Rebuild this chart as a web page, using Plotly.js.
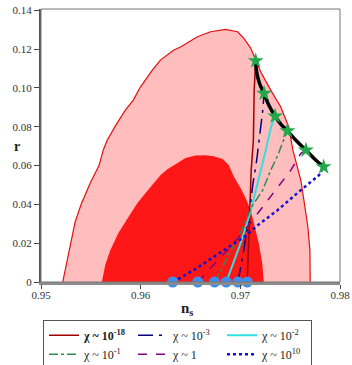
<!DOCTYPE html>
<html>
<head>
<meta charset="utf-8">
<script src="https://cdn.plot.ly/plotly-3.0.1.min.js"></script>
<style>
  html, body { margin: 0; padding: 0; background: #fff; }
  #plot-div { width: 352px; height: 365px; }
</style>
</head>
<body>
<div id="plot-div"></div>
<script>
// contours (outer = light pink, inner = red)
const outerNs = [0.95218, 0.95252, 0.95292, 0.95342, 0.95403, 0.95493, 0.95584, 0.95624, 0.95664, 0.95745,
    0.95846, 0.95926, 0.95997, 0.96117, 0.96198, 0.96329, 0.96399, 0.96570, 0.96701, 0.96852,
    0.96973, 0.97034, 0.97104, 0.97154, 0.97205, 0.97305, 0.97406, 0.97487, 0.97527, 0.97567,
    0.97607, 0.97638, 0.97678, 0.97698, 0.97701];
const outerR = [0, 0.0086, 0.0200, 0.0308, 0.0401, 0.0509, 0.0602, 0.0679, 0.0730, 0.0803,
    0.0885, 0.0937, 0.1004, 0.1091, 0.1143, 0.1194, 0.1210, 0.1263, 0.1289, 0.1301,
    0.1289, 0.1256, 0.1205, 0.1143, 0.1081, 0.0988, 0.0901, 0.0797, 0.0679, 0.0602,
    0.0524, 0.0421, 0.0282, 0.0163, 0];

const innerNs = [0.95611, 0.95644, 0.95695, 0.95775, 0.95876, 0.95966, 0.96047, 0.96128, 0.96198, 0.96268,
    0.96349, 0.96450, 0.96550, 0.96651, 0.96732, 0.96822, 0.96883, 0.96933, 0.97003, 0.97054,
    0.97104, 0.97144, 0.97185, 0.97220, 0.97235];
const innerR = [0, 0.0086, 0.0163, 0.0251, 0.0334, 0.0406, 0.0457, 0.0509, 0.0550, 0.0581,
    0.0607, 0.0638, 0.0651, 0.0653, 0.0648, 0.0633, 0.0602, 0.0545, 0.0483, 0.0431,
    0.0370, 0.0292, 0.0200, 0.0096, 0];

// thick black curve with the green stars
const blackNs = [0.97154, 0.97164, 0.97195, 0.97238, 0.97285, 0.97349, 0.97406, 0.97473, 0.97567, 0.97658, 0.97748, 0.97836];
const blackR = [0.1135, 0.1080, 0.1019, 0.0971, 0.0911, 0.0854, 0.0813, 0.0778, 0.0725, 0.0679, 0.0632, 0.0593];
const starNs = [0.97154, 0.97238, 0.97349, 0.97473, 0.97658, 0.97836];
const starR = [0.1139, 0.0971, 0.0854, 0.0778, 0.0679, 0.0593];

// blue dots on the ns axis
const dotNs = [0.96322, 0.96573, 0.96742, 0.96859, 0.96976, 0.97069];
const dotR = [0, 0, 0, 0, 0, 0];

// chi curves
const chiLabels = ['<b>χ ~ 10<sup>-18</sup></b>', 'χ ~ 10<sup>-3</sup>', 'χ ~ 10<sup>-2</sup>',
    'χ ~ 10<sup>-1</sup>', 'χ ~ 1', 'χ ~ 10<sup>10</sup>'];
const chiM18Ns = [0.97069, 0.97089, 0.97109, 0.97131, 0.97139, 0.97154];
const chiM18R = [0, 0.0267, 0.0576, 0.0730, 0.0988, 0.1139];
const chiM3Ns = [0.96976, 0.97034, 0.97087, 0.97124, 0.97164, 0.97195, 0.97225, 0.97238];
const chiM3R = [0, 0.0163, 0.0334, 0.0498, 0.0627, 0.0756, 0.0885, 0.0971];
const chiM2Ns = [0.96859, 0.97003, 0.97104, 0.97195, 0.97255, 0.97305, 0.97349];
const chiM2R = [0, 0.0200, 0.0364, 0.0550, 0.0679, 0.0792, 0.0854];
const chiM1Ns = [0.96742, 0.96883, 0.97003, 0.97124, 0.97225, 0.97305, 0.97376, 0.97426, 0.97473];
const chiM1R = [0, 0.0138, 0.0256, 0.0395, 0.0473, 0.0576, 0.0653, 0.0720, 0.0778];
const chi1Ns = [0.96573, 0.96869, 0.97071, 0.97272, 0.97386, 0.97507, 0.97607, 0.97658];
const chi1R = [0, 0.0163, 0.0284, 0.0421, 0.0498, 0.0576, 0.0663, 0.0679];
const chi10Ns = [0.96322, 0.96530, 0.96832, 0.97034, 0.97174, 0.97373, 0.97607, 0.97789, 0.97836];
const chi10R = [0, 0.0060, 0.0163, 0.0230, 0.0292, 0.0370, 0.0473, 0.0550, 0.0593];

const chiColors = ['#a00000', '#000080', '#33e0e0', '#2e8b57', '#800080', '#1010d0'];
const chiDash = ['solid', 'longdashdot', 'solid', 'dashdot', 'dash', 'dot'];
const chiWidth = [1.5, 1.5, 2, 1.5, 1.5, 2.5];

const serif = 'Liberation Serif, serif';

const chiNs = [chiM18Ns, chiM3Ns, chiM2Ns, chiM1Ns, chi1Ns, chi10Ns];
const chiR = [chiM18R, chiM3R, chiM2R, chiM1R, chi1R, chi10R];

const data = [
    {
        x: outerNs, y: outerR, mode: 'lines', fill: 'toself',
        fillcolor: '#ffbdbd', line: { color: '#e01010', width: 1.2 },
        showlegend: false, hoverinfo: 'skip'
    },
    {
        x: innerNs, y: innerR, mode: 'lines', fill: 'toself',
        fillcolor: '#ff1717', line: { color: '#ff1717', width: 0 },
        showlegend: false, hoverinfo: 'skip'
    }
];

chiNs.forEach((xs, i) => {
    data.push({
        x: xs, y: chiR[i], mode: 'lines', name: chiLabels[i],
        line: { color: chiColors[i], dash: chiDash[i], width: chiWidth[i] }
    });
});

data.push({
    x: blackNs, y: blackR, mode: 'lines', showlegend: false,
    line: { color: '#000', width: 3.5, shape: 'spline' }
});
data.push({
    x: starNs, y: starR, mode: 'markers', showlegend: false, cliponaxis: false,
    marker: { symbol: 'star', size: 12, color: '#22a84a', line: { width: 0 } }
});
data.push({
    x: dotNs, y: dotR, mode: 'markers', showlegend: false, cliponaxis: false,
    marker: { symbol: 'circle', size: 11, color: '#3a8ff0', line: { width: 0 } }
});

const layout = {
    width: 352,
    height: 365,
    margin: { l: 41, r: 12, t: 9, b: 83, autoexpand: false },
    paper_bgcolor: '#fff',
    plot_bgcolor: '#fff',
    font: { family: serif, size: 11, color: '#333' },
    showlegend: true,
    xaxis: {
        range: [0.95, 0.98],
        tickvals: [0.95, 0.96, 0.97, 0.98],
        ticktext: ['0.95', '0.96', '0.97', '0.98'],
        ticks: 'outside', ticklen: 4, tickcolor: '#444',
        ticklabelstandoff: -3,
        showgrid: false, zeroline: false,
        showline: true, linecolor: '#8c8c8c', linewidth: 2.5
    },
    yaxis: {
        range: [0, 0.1406],
        tickvals: [0, 0.02, 0.04, 0.06, 0.08, 0.10, 0.12, 0.14],
        ticktext: ['0', '0.02', '0.04', '0.06', '0.08', '0.10', '0.12', '0.14'],
        ticks: 'outside', ticklen: 5, tickcolor: '#444',
        showgrid: false, zeroline: false,
        showline: true, linecolor: '#555', linewidth: 2
    },
    shapes: [{
        type: 'rect', xref: 'paper', yref: 'paper', x0: 0, x1: 1, y0: 0, y1: 1,
        line: { color: '#777', width: 1 }, layer: 'above'
    }],
    annotations: [
        {
            text: '<b>r</b>', xref: 'paper', yref: 'paper', x: -0.097, y: 0.495,
            showarrow: false, font: { family: serif, size: 14, color: '#222' }
        },
        {
            text: '<b>n<sub>s</sub></b>', xref: 'paper', yref: 'paper', x: 0.487, y: -0.1,
            xanchor: 'center', yanchor: 'middle',
            showarrow: false, font: { family: serif, size: 15, color: '#222' }
        }
    ],
    legend: {
        orientation: 'h',
        x: 0.0067, xanchor: 'left',
        y: -0.138, yanchor: 'top',
        bordercolor: '#555', borderwidth: 1,
        entrywidth: 44, entrywidthmode: 'pixels',
        font: { family: serif, size: 12, color: '#222' },
        tracegroupgap: 0
    }
};

Plotly.newPlot('plot-div', data, layout, { displayModeBar: false, staticPlot: true });
</script>
</body>
</html>
